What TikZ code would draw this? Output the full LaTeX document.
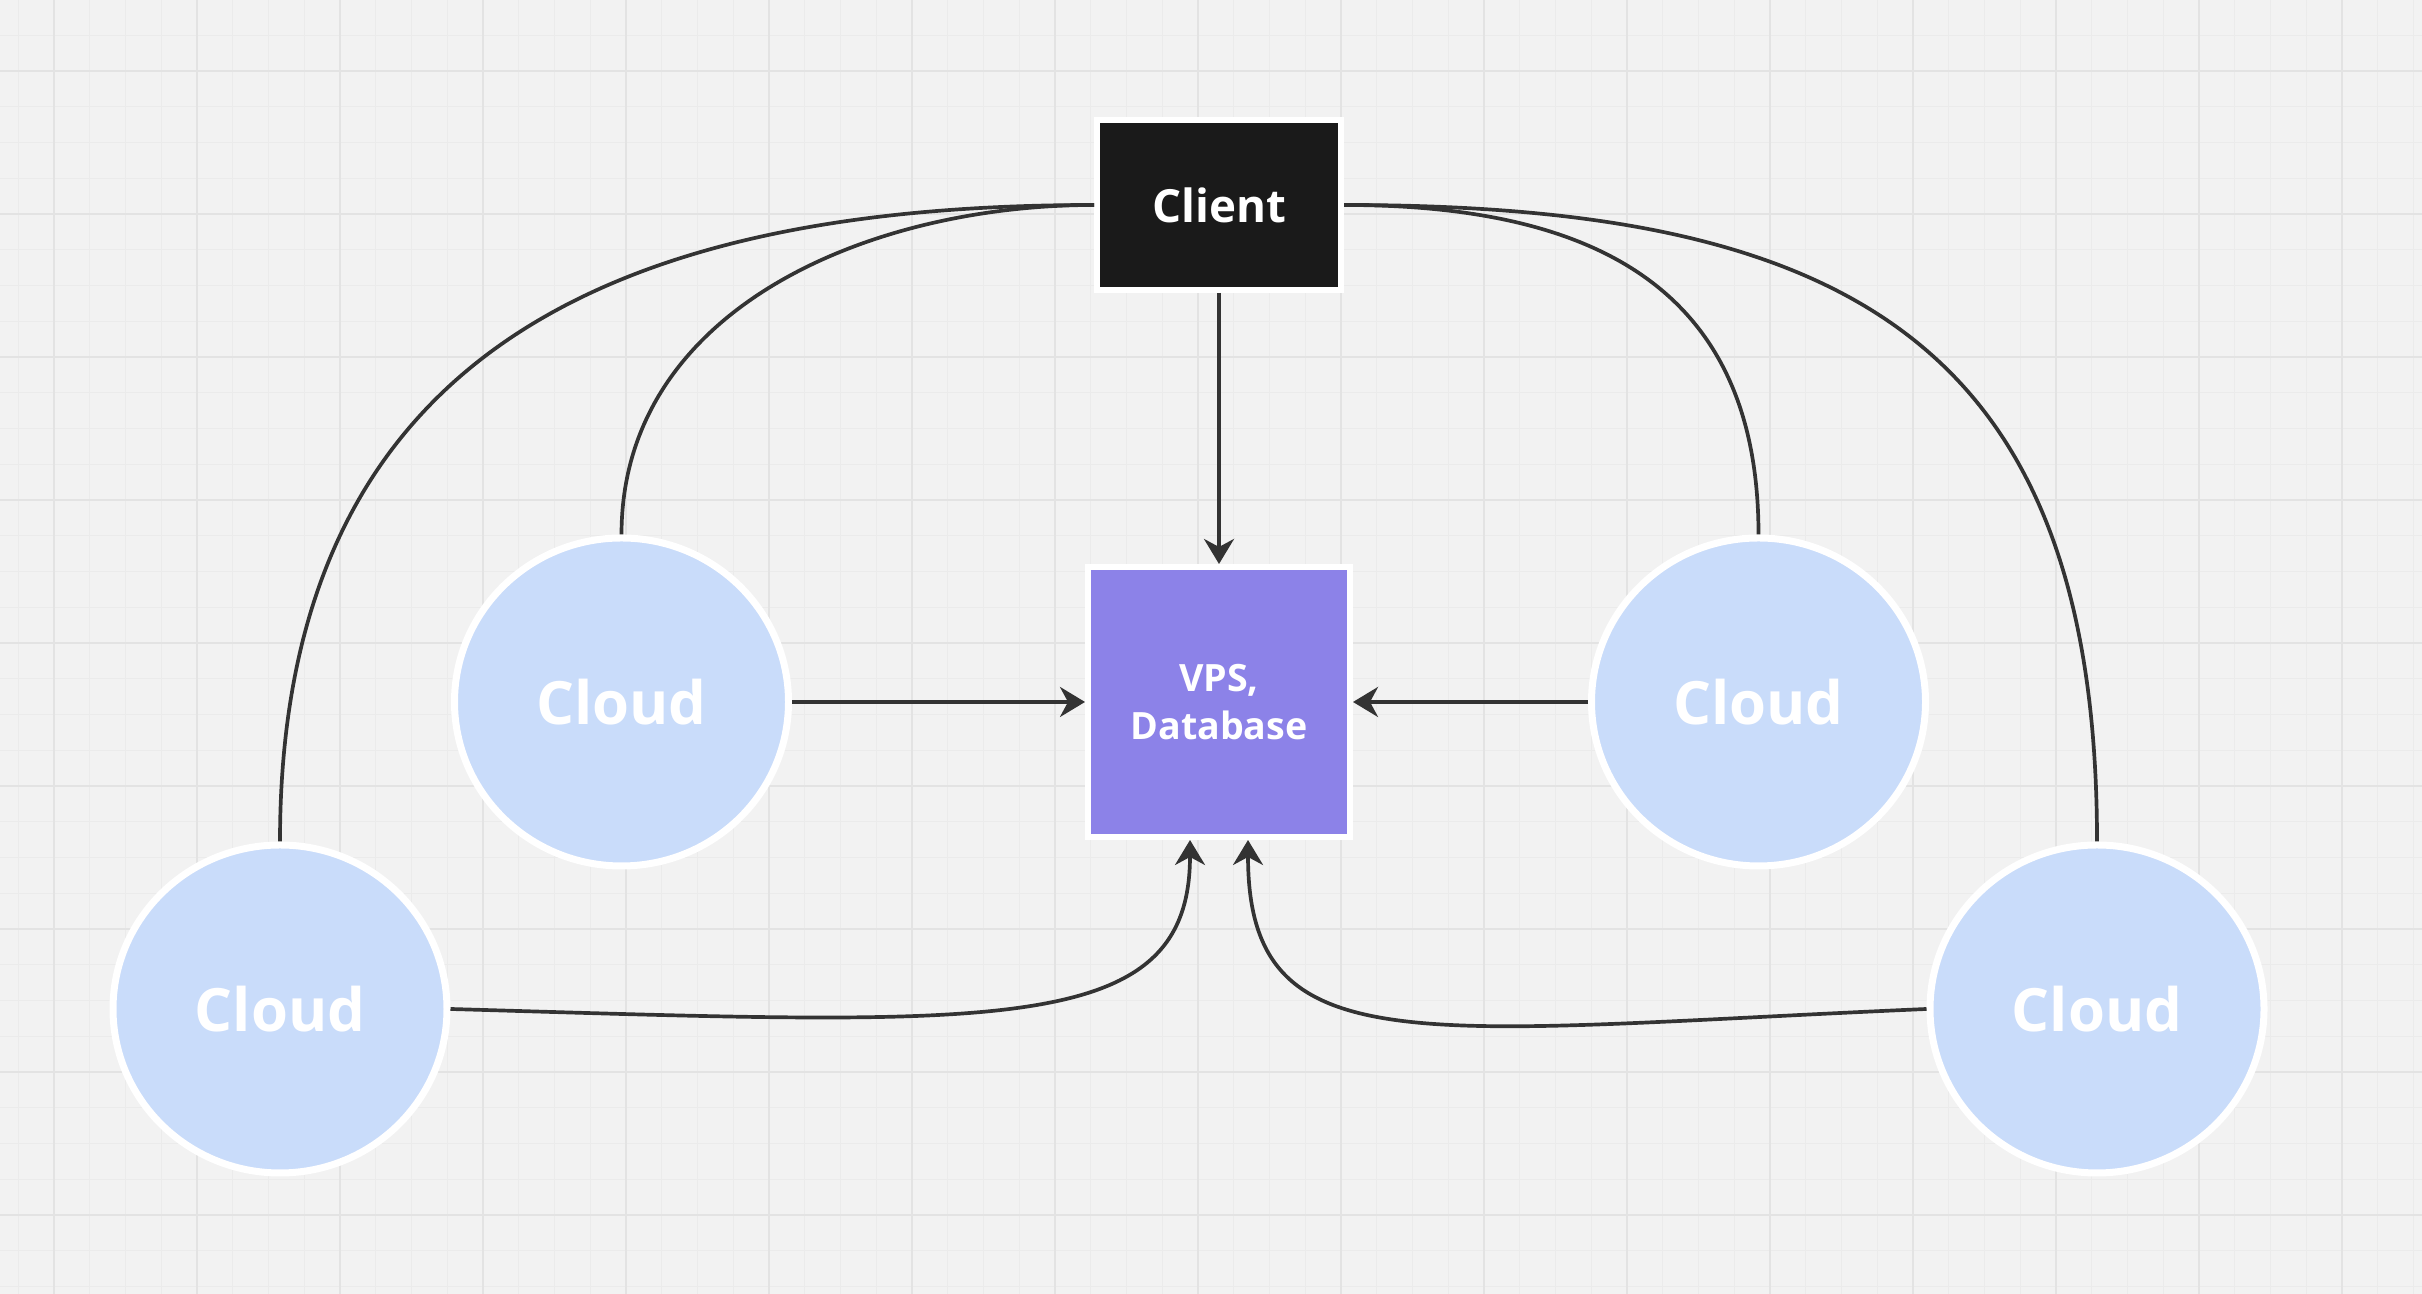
\documentclass[tikz,border=0pt]{standalone}
\usepackage{fontspec}
\setmainfont{Open Sans}
\usepackage{tikz}
\usetikzlibrary{shapes.geometric, arrows.meta}
\usetikzlibrary{positioning}

\definecolor{bgGray}{HTML}{F2F2F2}
\definecolor{gridMinor}{HTML}{EBEBEB}
\definecolor{gridMajor}{HTML}{E3E3E3}
\definecolor{clientBlack}{HTML}{1A1A1A}
\definecolor{vpsPurple}{HTML}{8C82E8}
\definecolor{cloudBlue}{HTML}{C9DCFA}
\definecolor{lineGray}{HTML}{333333}

\begin{document}
\begin{tikzpicture}[node distance=2cm]
	%defines
	\tikzstyle{client} = [rectangle, minimum width=2.44cm, minimum height=1.70cm, text centered, fill=clientBlack, draw=white, line width=0.06cm, text=white, font=\fontsize{13}{15}\selectfont\bfseries]
	\tikzstyle{vps} = [rectangle, minimum width=2.62cm, minimum height=2.70cm, align=center, fill=vpsPurple, draw=white, line width=0.06cm, text=white, font=\fontsize{10.7}{13.7}\selectfont\bfseries]
	\tikzstyle{cloud} = [ellipse, minimum width=3.34cm, minimum height=3.28cm, inner sep=0pt, text centered, fill=cloudBlue, draw=white, line width=0.07cm, text=white, font=\fontsize{17}{20}\selectfont\bfseries]
	\tikzstyle{arrow} = [line width=1.05pt, draw=lineGray, ->, >={Stealth[length=2.5mm, width=3mm, inset=0.8mm]}]
	\tikzstyle{link} = [line width=1.05pt, draw=lineGray]
	\tikzstyle{gridMinorLine} = [draw=gridMinor, line width=0.35pt]
	\tikzstyle{gridMajorLine} = [draw=gridMajor, line width=0.6pt]
	%background
	\useasboundingbox (0,0) rectangle (24.22,12.94);
	\fill[bgGray] (0,0) rectangle (24.22,12.94);
	\foreach \i in {0,...,67}
		\draw[gridMinorLine] (0.1825+\i*0.3575,0) -- ++(0,12.94);
	\foreach \j in {0,...,35}
		\draw[gridMinorLine] (0,0.075+\j*0.3575) -- ++(24.22,0);
	\foreach \i in {0,...,16}
		\draw[gridMajorLine] (0.54+\i*1.43,0) -- ++(0,12.94);
	\foreach \j in {0,...,8}
		\draw[gridMajorLine] (0,12.23-\j*1.43) -- ++(24.22,0);
	%chart
	\node (vps) [vps] at (12.19,5.92) {VPS,\\Database};
	\node (client) [client, above=2.71cm of vps] {Client};
	\node (cloudA) [cloud, left=2.93cm of vps] {Cloud};
	\node (cloudC) [cloud, right=2.35cm of vps] {Cloud};
	\node (cloudB) [cloud] at (2.80,2.85) {Cloud};
	\node (cloudD) [cloud] at (20.97,2.85) {Cloud};
	\draw [arrow] (client) -- (vps);
	\draw [arrow] (cloudA) -- (vps);
	\draw [arrow] (cloudC) -- (vps);
	\draw [link] (cloudA.north) to[out=90, in=180] (client.west);
	\draw [link] (cloudB.north) to[out=90, in=180, looseness=1.2] (client.west);
	\draw [link] (client.east) to[out=0, in=90, looseness=1.2] (cloudC.north);
	\draw [link] (client.east) to[out=0, in=90, looseness=1.3] (cloudD.north);
	\draw [arrow] (cloudB.east) .. controls +(5.49,-0.16) and +(0,-1.98) .. ([xshift=-0.29cm]vps.south);
	\draw [arrow] (cloudD.west) .. controls +(-5.08,-0.22) and +(0,-2.28) .. ([xshift=0.29cm]vps.south);
\end{tikzpicture}
\end{document}
